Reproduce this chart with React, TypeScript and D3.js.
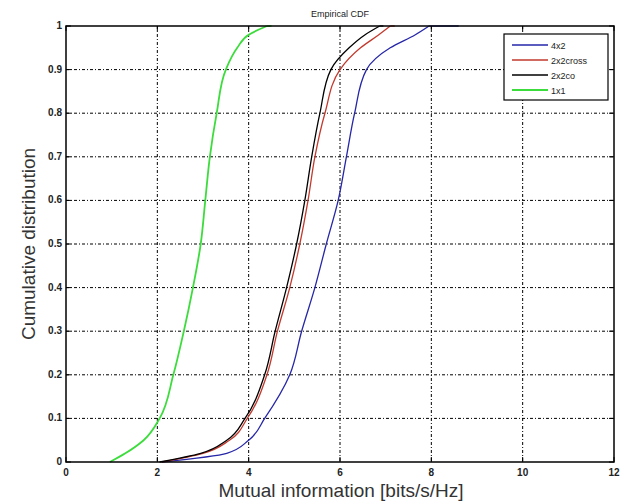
import React, { useEffect, useRef } from 'react';
import * as d3 from 'd3';

const probs = [0, 0.02, 0.05, 0.1, 0.2, 0.3, 0.4, 0.5, 0.6, 0.7, 0.8, 0.9, 0.95, 0.98, 1];
const x4x2 = [2.1, 3.52, 4.0, 4.35, 4.9, 5.16, 5.45, 5.7, 5.96, 6.14, 6.32, 6.58, 7.1, 7.65, 7.95];
const x2x2cross = [2.1, 3.0, 3.58, 3.97, 4.4, 4.63, 4.9, 5.12, 5.3, 5.45, 5.67, 6.0, 6.45, 6.85, 7.1];
const x2x2co = [2.05, 2.95, 3.52, 3.92, 4.35, 4.58, 4.83, 5.05, 5.23, 5.38, 5.56, 5.8, 6.2, 6.55, 6.87];
const x1x1 = [0.96, 1.3, 1.7, 2.05, 2.35, 2.58, 2.78, 2.95, 3.05, 3.15, 3.3, 3.5, 3.75, 4.0, 4.4];
// where each curve stops along the top (largest sample)
const xMax = [8.6, 7.2, 6.95, 4.5];

const seriesNames = ['4x2', '2x2cross', '2x2co', '1x1'];
const seriesX = [x4x2, x2x2cross, x2x2co, x1x1];
const colors = ['#2626a8', '#c23a2e', '#000000', '#3ddc3d'];

const xTicks = [0, 2, 4, 6, 8, 10, 12];
const yTicks = [0, 0.1, 0.2, 0.3, 0.4, 0.5, 0.6, 0.7, 0.8, 0.9, 1];

const App = () => {
  const ref = useRef(null);

  useEffect(() => {
    const svg = d3.select(ref.current);
    svg.selectAll('*').remove();
    const font = 'Liberation Sans, Arial, sans-serif';

    const left = 66, right = 614, top = 26, bottom = 462;
    const x = d3.scaleLinear().domain([0, 12]).range([left, right]);
    const y = d3.scaleLinear().domain([0, 1]).range([bottom, top]);

    svg.append('rect').attr('width', 633).attr('height', 502).attr('fill', '#fff');

    // grid (matlab dotted grid, blurred into dash-dots)
    const grid = svg.append('g').attr('stroke', '#000').attr('stroke-width', 1)
      .attr('stroke-dasharray', '3,2,1,2');
    grid.selectAll('.gx').data(xTicks.slice(1, -1)).join('line')
      .attr('class', 'gx')
      .attr('x1', d => x(d)).attr('x2', d => x(d)).attr('y1', top).attr('y2', bottom);
    grid.selectAll('.gy').data(yTicks.slice(1, -1)).join('line')
      .attr('class', 'gy')
      .attr('y1', d => y(d)).attr('y2', d => y(d)).attr('x1', left).attr('x2', right);

    // curves
    const line = d3.line<number>()
      .x(d => x(d))
      .y((d, i) => y(probs[i]))
      .curve(d3.curveMonotoneY);
    seriesX.forEach((xs, k) => {
      const w = k === 3 ? 1.8 : 1.3;
      svg.append('path')
        .datum(xs)
        .attr('fill', 'none')
        .attr('stroke', colors[k])
        .attr('stroke-width', w)
        .attr('d', line);
      svg.append('line')
        .attr('x1', x(xs[xs.length - 1])).attr('x2', x(xMax[k]))
        .attr('y1', y(1)).attr('y2', y(1))
        .attr('stroke', colors[k]).attr('stroke-width', w);
    });

    // axes box
    svg.append('rect')
      .attr('x', left).attr('y', top).attr('width', right - left).attr('height', bottom - top)
      .attr('fill', 'none').attr('stroke', '#000').attr('stroke-width', 1.5);

    // inward ticks
    const ticks = svg.append('g').attr('stroke', '#000').attr('stroke-width', 1);
    xTicks.forEach(t => {
      ticks.append('line').attr('x1', x(t)).attr('x2', x(t)).attr('y1', bottom).attr('y2', bottom - 5);
      ticks.append('line').attr('x1', x(t)).attr('x2', x(t)).attr('y1', top).attr('y2', top + 5);
    });
    yTicks.forEach(t => {
      ticks.append('line').attr('y1', y(t)).attr('y2', y(t)).attr('x1', left).attr('x2', left + 5);
      ticks.append('line').attr('y1', y(t)).attr('y2', y(t)).attr('x1', right).attr('x2', right - 5);
    });

    // tick labels
    svg.append('g').selectAll('text').data(xTicks).join('text')
      .attr('x', d => x(d)).attr('y', bottom + 14)
      .attr('text-anchor', 'middle').attr('font-family', font).attr('font-size', 10)
      .attr('font-weight', 'bold').attr('fill', '#222')
      .text(d => d);
    svg.append('g').selectAll('text').data(yTicks).join('text')
      .attr('x', left - 4).attr('y', d => y(d) + 3)
      .attr('text-anchor', 'end').attr('font-family', font).attr('font-size', 10)
      .attr('font-weight', 'bold').attr('fill', '#222')
      .text(d => d);

    // title and axis labels
    svg.append('text').attr('x', (left + right) / 2).attr('y', 17)
      .attr('text-anchor', 'middle').attr('font-family', font).attr('font-size', 9)
      .attr('fill', '#222').text('Empirical CDF');
    svg.append('text').attr('x', 341).attr('y', 497)
      .attr('text-anchor', 'middle').attr('font-family', font).attr('font-size', 19)
      .attr('fill', '#333').text('Mutual information [bits/s/Hz]');
    svg.append('text')
      .attr('transform', `translate(35,${(top + bottom) / 2}) rotate(-90)`)
      .attr('text-anchor', 'middle').attr('font-family', font).attr('font-size', 19)
      .attr('fill', '#333').text('Cumulative distribution');

    // legend
    const lg = svg.append('g');
    lg.append('rect').attr('x', 504).attr('y', 34).attr('width', 104).attr('height', 66)
      .attr('fill', '#fff').attr('stroke', '#000').attr('stroke-width', 1.2);
    seriesNames.forEach((name, i) => {
      const ly = 45 + i * 15;
      lg.append('line').attr('x1', 512).attr('x2', 548).attr('y1', ly).attr('y2', ly)
        .attr('stroke', colors[i]).attr('stroke-width', i === 3 ? 1.8 : 1.3);
      lg.append('text').attr('x', 551).attr('y', ly + 3.5)
        .attr('font-family', font).attr('font-size', 9).attr('fill', '#222').text(name);
    });
  }, []);

  return (
    <svg ref={ref} width={633} height={502} style={{ position: 'absolute', left: 0, top: 0 }} />
  );
};

export default App;
